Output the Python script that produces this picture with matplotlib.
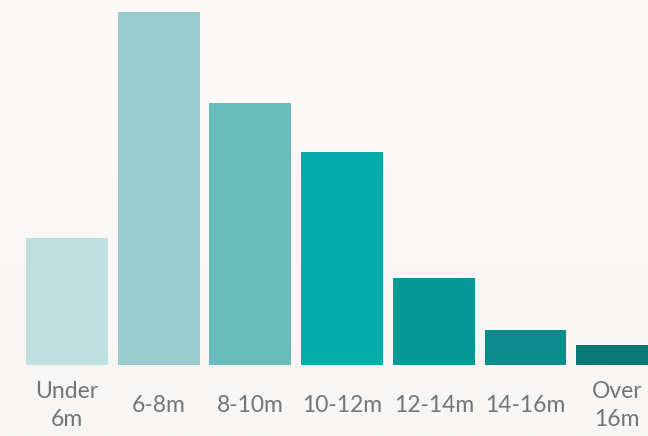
import numpy as np
from matplotlib import pyplot as plt

# 数据
labels = ["Under\n6m", "6-8m", "8-10m", "10-12m", "12-14m", "14-16m", "Over\n16m"]
values = [11.6, 32.2, 23.9, 19.4, 7.9, 3.2, 1.8]
colors = ["#c0dfdf", "#9acece", "#6abcbc", "#04adaa", "#069895", "#0b8c8a", "#0a7775"]

fig = plt.figure(figsize=(6.48, 4.36), dpi=100)

# 背景渐变
bg = fig.add_axes([0, 0, 1, 1], zorder=-1)
grad = np.linspace(0, 1, 256).reshape(-1, 1)
c_top = np.array([252, 251, 250]) / 255
c_bot = np.array([247, 246, 244]) / 255
img = c_top + grad[..., None] * (c_bot - c_top)
bg.imshow(img, aspect="auto", extent=[0, 1, 0, 1])
bg.axis("off")

ax = fig.add_axes([0, 71 / 436, 1, 365 / 436])
ax.patch.set_alpha(0)
xs = np.arange(len(values))
ax.bar(xs, values, width=0.894, color=colors)
ax.set_xlim(-67 / 91.7, (648 - 67) / 91.7)
ax.set_ylim(0, 365 / 353 * max(values))
ax.axis("off")

for x, lab in zip(xs, labels):
    ax.text(x, -3.7, lab, ha="center", va="center", fontsize=16.5,
            color="#747474", family="Lato", linespacing=1.45)

plt.savefig("out.png", dpi=100)
plt.close()
